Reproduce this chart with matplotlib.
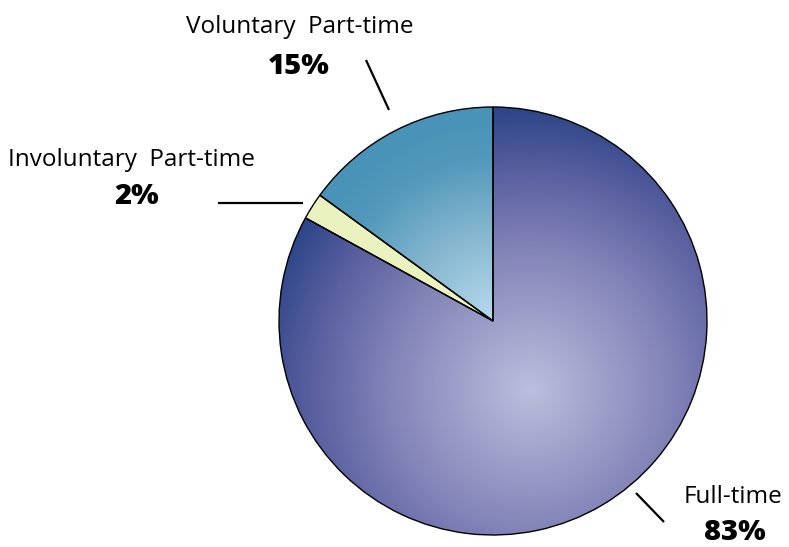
import numpy as np
import matplotlib
matplotlib.use("Agg")
import matplotlib.pyplot as plt
from matplotlib.colors import LinearSegmentedColormap

categories = ["Full-time", "Involuntary  Part-time", "Voluntary  Part-time"]
values = [83, 2, 15]
pct_labels = ["83%", "2%", "15%"]

W, H = 789, 547
fig = plt.figure(figsize=(W / 100, H / 100), dpi=100)
ax = fig.add_axes([0, 0, 1, 1])

cx, cy, R = 493, H - 321, 214

wedges, _ = ax.pie(values, startangle=90, counterclock=False, center=(cx, cy),
                   radius=R, wedgeprops=dict(edgecolor="black", linewidth=1.0))
ax.set_xlim(0, W)
ax.set_ylim(0, H)
ax.set_aspect("equal")
ax.axis("off")

# gradient fills
gx = np.linspace(cx - R, cx + R, 500)
gy = np.linspace(cy - R, cy + R, 500)
GX, GY = np.meshgrid(gx, gy)

specs = [
    (530, 390, 280, [(0, "#bbbedd"), (0.5, "#8384b8"), (0.78, "#5a60a0"), (1.0, "#2e4689")]),
    (493, 320, 100, [(0, "#eef4c4"), (1.0, "#eaf2bf")]),
    (495, 318, 200, [(0, "#b6daec"), (0.45, "#84b5ce"), (0.8, "#5299bb"), (1.0, "#4a93b8")]),
]
for w, (fx, fy, dmax, stops) in zip(wedges, specs):
    cmap = LinearSegmentedColormap.from_list("g", stops)
    d = np.hypot(GX - fx, GY - (H - fy)) / dmax
    d = np.clip(d, 0, 1)
    img = ax.imshow(d, cmap=cmap, vmin=0, vmax=1, origin="lower",
                    extent=(cx - R, cx + R, cy - R, cy + R), zorder=1,
                    interpolation="bilinear")
    img.set_clip_path(w)
    w.set_facecolor("none")
    w.set_zorder(2)
ax.set_xlim(0, W)
ax.set_ylim(0, H)

font = "Open Sans"
lsize, psize = 17.5, 21
ax.text(300, H - 27, categories[2], ha="center", va="center", fontsize=lsize, family=font)
ax.text(299, H - 66, pct_labels[2], ha="center", va="center", fontsize=psize, fontweight="heavy", family=font)
ax.text(8, H - 160, categories[1], ha="left", va="center", fontsize=lsize, family=font)
ax.text(137, H - 196, pct_labels[1], ha="center", va="center", fontsize=psize, fontweight="heavy", family=font)
ax.text(733, H - 497, categories[0], ha="center", va="center", fontsize=lsize, family=font)
ax.text(735, H - 533, pct_labels[0], ha="center", va="center", fontsize=psize, fontweight="heavy", family=font)

# leader lines
for (x0, y0, x1, y1) in [(366, 60, 389, 110), (218, 203, 303, 203), (636, 493, 664, 522)]:
    ax.plot([x0, x1], [H - y0, H - y1], color="black", linewidth=1.6, solid_capstyle="butt")

fig.savefig("out.png", dpi=100)
